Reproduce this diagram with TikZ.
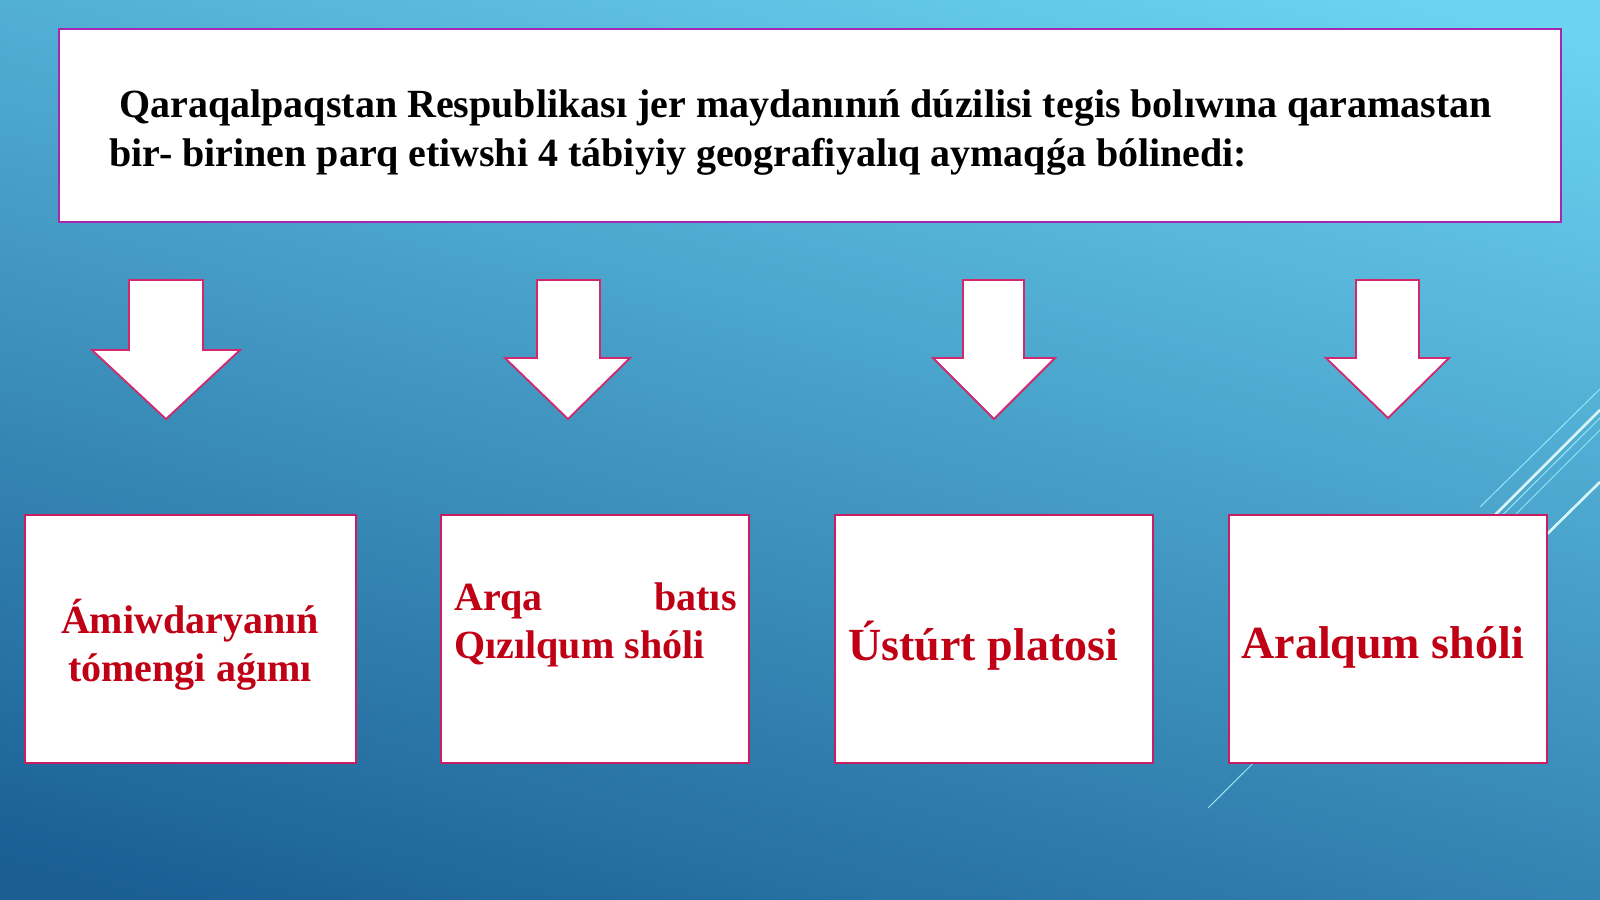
\documentclass[tikz,border=0pt]{standalone}
\usepackage{fontspec}
\setmainfont{Liberation Serif}
\definecolor{bgtop}{RGB}{108,212,242}
\definecolor{bgmid}{RGB}{58,156,204}
\definecolor{bgbot}{RGB}{26,94,148}
\definecolor{topcol}{RGB}{165,40,175}
\definecolor{boxcol}{RGB}{200,30,100}
\definecolor{arrcol}{RGB}{210,40,110}
\definecolor{redcol}{RGB}{192,0,20}
\definecolor{decocol}{RGB}{150,228,245}
\definecolor{decowhite}{RGB}{215,246,252}
\begin{document}
\begin{tikzpicture}[x=0.5pt,y=-0.5pt,
  topframe/.style={draw=topcol, line width=1pt, fill=white, inner sep=0pt},
  boxframe/.style={draw=boxcol, line width=1pt, fill=white, inner sep=0pt, minimum height=124pt},
  blockarrow/.style={draw=arrcol, line width=0.9pt, fill=white, line join=miter},
  deco/.style={draw=decocol, line width=0.5pt},
  decothick/.style={draw=decowhite, line width=1.3pt},
  toptext/.style={text=black, font=\bfseries\fontsize{20}{24}\selectfont, inner sep=0pt, anchor=base west},
  redsmall/.style={text=redcol, font=\bfseries\fontsize{20}{24}\selectfont, inner sep=0pt},
  redbig/.style={text=redcol, font=\bfseries\fontsize{23}{27}\selectfont, inner sep=0pt, anchor=base west},
]
\useasboundingbox (0,0) rectangle (1600,899);
\shade[top color=bgtop, middle color=bgmid, bottom color=bgbot, shading angle=-15] (-100,-80) rectangle (1700,980);

% decorative lines
\draw[deco] (1480,507) -- (1600,389);
\draw[decothick] (1440,570) -- (1600,410);
\draw[deco] (1208,808) -- (1600,418);
\draw[deco] (1470,560) -- (1600,430);
\draw[decothick] (1480,600) -- (1600,482);

% top box
\node[topframe, minimum width=751pt, minimum height=96.5pt] (top) at (810,125.5) {};
\node[toptext] (t1) at (119,118) {Qaraqalpaqstan Respublikası jer maydanınıń dúzilisi tegis bolıwına qaramastan};
\node[toptext] (t2) at (109,166) {bir- birinen parq etiwshi 4 tábiyiy geografiyalıq aymaqǵa bólinedi:};

% block arrows
\draw[blockarrow] (129,280) -- (203,280) -- (203,350) -- (240,350) -- (166,419) -- (92,350) -- (129,350) -- cycle;
\draw[blockarrow] (537,280) -- (600,280) -- (600,358) -- (630,358) -- (568,419) -- (505,358) -- (537,358) -- cycle;
\draw[blockarrow] (963,280) -- (1024,280) -- (1024,358) -- (1055,358) -- (994,419) -- (933,358) -- (963,358) -- cycle;
\draw[blockarrow] (1356,280) -- (1419,280) -- (1419,358) -- (1449,358) -- (1388,418) -- (1326,358) -- (1356,358) -- cycle;

% boxes
\node[boxframe, minimum width=165.75pt] (b1) at (190.25,639) {};
\node[boxframe, minimum width=154pt] (b2) at (595,639) {};
\node[boxframe, minimum width=159pt] (b3) at (994,639) {};
\node[boxframe, minimum width=159pt] (b4) at (1388,639) {};

% box texts
\node[redsmall, anchor=base] (b1a) at (190,633) {Ámiwdaryanıń};
\node[redsmall, anchor=base] (b1b) at (190,681) {tómengi aǵımı};
\node[redsmall, anchor=base west] (b2a) at (454,610) {Arqa};
\node[redsmall, anchor=base east] (b2b) at (737,610) {batıs};
\node[redsmall, anchor=base west] (b2c) at (454,658) {Qızılqum shóli};
\node[redbig] (b3a) at (848,660) {Ústúrt platosi};
\node[redbig] (b4a) at (1241,658) {Aralqum shóli};
\end{tikzpicture}
\end{document}
